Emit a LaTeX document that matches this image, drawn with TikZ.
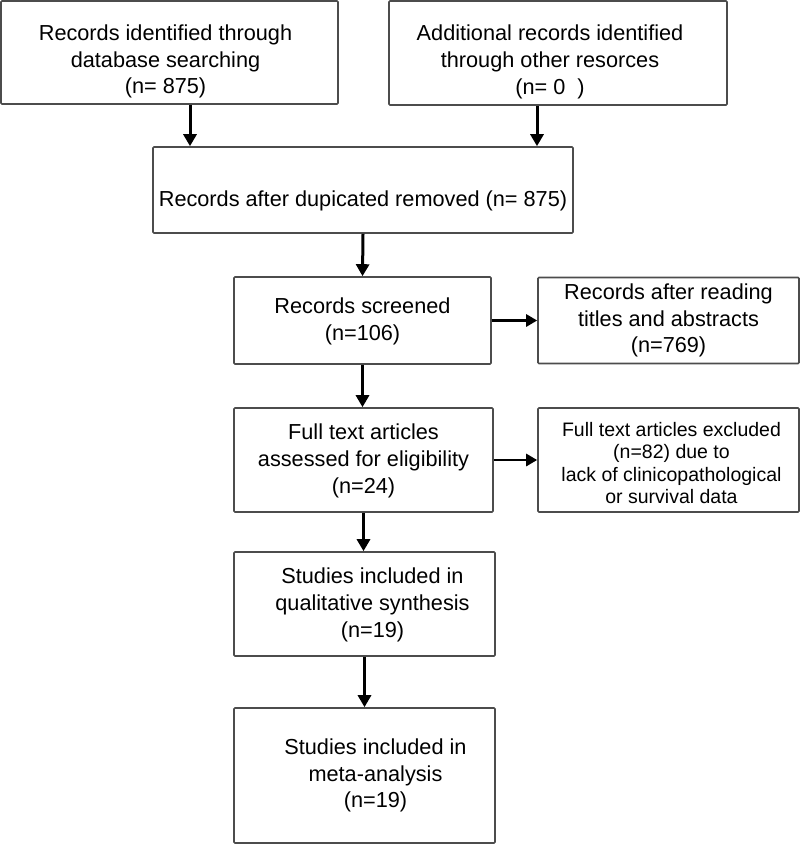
\documentclass[tikz,border=0pt]{standalone}
\usepackage{fontspec}
\setmainfont{Liberation Sans}
\usetikzlibrary{arrows.meta}
\begin{document}
\begin{tikzpicture}[x=1pt,y=-1pt,
  box/.style={draw=black!70, line width=1.6pt, rounded corners=1pt, inner sep=0pt},
  txt/.style={inner sep=0pt, align=center, font=\fontsize{21.7}{26.7}\selectfont},
  smalltxt/.style={txt, font=\fontsize{19.5}{22.6}\selectfont},
  arr/.style={line width=3pt, -{Triangle[length=12pt,width=13pt]}},
  harr/.style={line width=2.7pt, -{Triangle[length=11pt,width=12pt]}}]
\useasboundingbox (0,0) rectangle (800,845);
% boxes
\node[box, minimum width=337pt, minimum height=103pt] (b1) at (169.5,52.5) {};
\node[box, minimum width=338pt, minimum height=104pt] (b2) at (558,53) {};
\node[box, minimum width=420pt, minimum height=86pt] (b3) at (363,190) {};
\node[box, minimum width=257pt, minimum height=87pt] (b4) at (362.5,320.5) {};
\node[box, minimum width=261pt, minimum height=86pt] (b5) at (668.5,320.5) {};
\node[box, minimum width=259pt, minimum height=104pt] (b6) at (363.5,460) {};
\node[box, minimum width=261pt, minimum height=104pt] (b7) at (668.5,460) {};
\node[box, minimum width=261pt, minimum height=104pt] (b8) at (364.5,604) {};
\node[box, minimum width=261pt, minimum height=135pt] (b9) at (364.5,775.5) {};
% texts
\node[txt] (t1) at ([xshift=-4pt,yshift=-9pt]b1.center)
  {Records identified through\\database searching\\(n= 875)};
\node[txt] (t2) at ([xshift=-8pt,yshift=-9pt]b2.center)
  {Additional records identified\\through other resorces\\(n= 0\ \ )};
\node[txt] (t3) at ([yshift=-11pt]b3.center)
  {Records after dupicated removed (n= 875)};
\node[txt] (t4) at ([yshift=-1pt]b4.center)
  {Records screened\\(n=106)};
\node[txt] (t5) at ([yshift=0pt]b5.center)
  {Records after reading\\titles and abstracts\\(n=769)};
\node[txt] (t6) at ([yshift=-1pt]b6.center)
  {Full text articles\\assessed for eligibility\\(n=24)};
\node[smalltxt] (t7) at ([xshift=3pt,yshift=-3pt]b7.center)
  {Full text articles excluded\\(n=82) due to\\lack of clinicopathological\\or survival data};
\node[txt] (t8) at ([xshift=8pt,yshift=-1pt]b8.center)
  {Studies included in\\qualitative synthesis\\(n=19)};
\node[txt] (t9) at ([xshift=11pt,yshift=0pt]b9.center)
  {Studies included in\\meta-analysis\\(n=19)};
% connectors
\coordinate (c1) at (190,0);
\coordinate (c2) at (537,0);
\draw[arr] (c1 |- b1.south) -- (c1 |- b3.north);
\draw[arr] (c2 |- b2.south) -- (c2 |- b3.north);
\draw[arr] (b3.south) -- (b4.north);
\draw[harr] (b4.east) -- (b4.east -| b5.west);
\draw[arr] (b4.south) -- (b4.south |- b6.north);
\draw[harr] (b6.east) -- (b6.east -| b7.west);
\draw[arr] (b6.south) -- (b6.south |- b8.north);
\draw[arr] (b8.south) -- (b9.north);
\end{tikzpicture}
\end{document}
